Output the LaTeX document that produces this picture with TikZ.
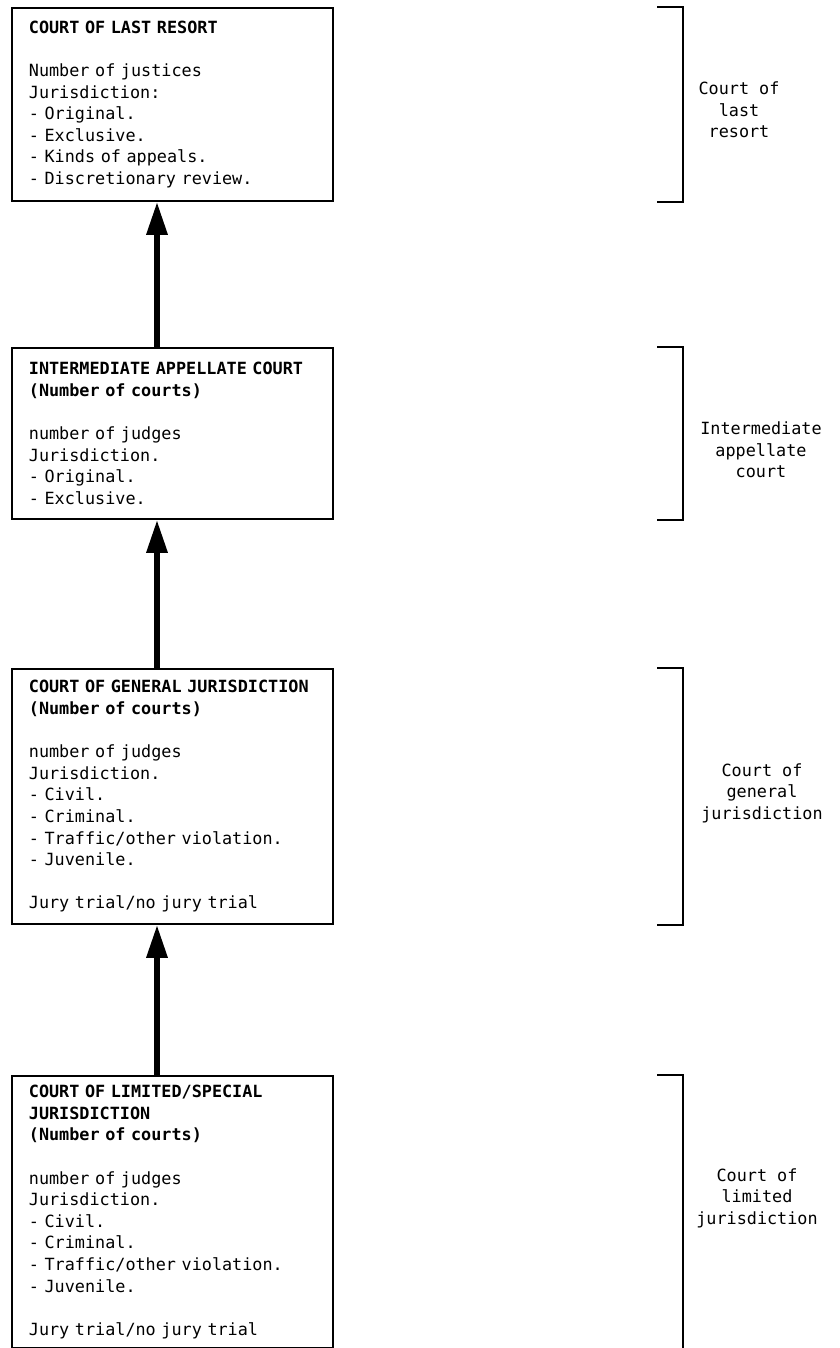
\documentclass[tikz,border=0pt]{standalone}
\usepackage{fontspec}
\setmonofont{DejaVu Sans Mono}
\usetikzlibrary{arrows.meta}
% fixed-pitch text: every space as wide as a character cell
\newcommand{\monotext}{\ttfamily\fontsize{16.8}{21.6}\selectfont
  \spaceskip=10.11pt plus 0pt minus 0pt\relax}
% a title line that must never be broken
\newcommand{\ttl}[1]{\mbox{\textbf{#1}}}
\begin{document}
\begin{tikzpicture}[x=1pt,y=-1pt,
  court/.style={draw, line width=1.8pt, anchor=north west,
    inner xsep=17pt, inner ysep=0pt,
    text width=287pt, align=left, font=\monotext},
  level/.style={align=center, inner sep=0pt, font=\monotext},
  bracket/.style={line width=1.8pt},
  uparrow/.style={line width=6pt,
    -{Triangle[width=20pt,length=33pt]}, shorten >=0pt}
]
\useasboundingbox (0,0) rectangle (839,1348);

% court boxes
\node[court, minimum height=193pt] (last) at (11,7)
  {\ttl{COURT OF LAST RESORT}\\ ~\\
   Number of justices\\ Jurisdiction:\\ - Original.\\ - Exclusive.\\
   - Kinds of appeals.\\ - Discretionary review.};
\node[court, minimum height=171pt] (inter) at (11,347)
  {\ttl{INTERMEDIATE APPELLATE COURT}\\ \ttl{(Number of courts)}\\ ~\\
   number of judges\\ Jurisdiction.\\ - Original.\\ - Exclusive.};
\node[court, minimum height=255pt] (general) at (11,668)
  {\ttl{COURT OF GENERAL JURISDICTION}\\ \ttl{(Number of courts)}\\ ~\\
   number of judges\\ Jurisdiction.\\ - Civil.\\ - Criminal.\\
   - Traffic/other violation.\\ - Juvenile.\\ ~\\ Jury trial/no jury trial};
\node[court, minimum height=272pt] (limited) at (11,1075)
  {\ttl{COURT OF LIMITED/SPECIAL}\\ \ttl{JURISDICTION}\\
   \ttl{(Number of courts)}\\ ~\\
   number of judges\\ Jurisdiction.\\ - Civil.\\ - Criminal.\\
   - Traffic/other violation.\\ - Juvenile.\\ ~\\ Jury trial/no jury trial};

% appeal arrows
\coordinate (ax) at (157,0);
\draw[uparrow] (inter.north -| ax) -- (last.south -| ax);
\draw[uparrow] (general.north -| ax) -- (inter.south -| ax);
\draw[uparrow] (limited.north -| ax) -- (general.south -| ax);

% brackets on the right
\coordinate (bl) at (657,0);
\coordinate (br) at (683,0);
\foreach \b in {last,inter,general,limited}{
  \draw[bracket] (\b.north -| bl) -- (\b.north -| br)
    -- (\b.south -| br) -- (\b.south -| bl);
}

% level labels
\node[level] (lastlab) at (739,110) {Court of\\ last\\ resort};
\node[level] (interlab) at (761,450) {Intermediate\\ appellate\\ court};
\node[level] (genlab) at (762,793) {Court of\\ general\\ jurisdiction};
\node[level] (limlab) at (757,1198) {Court of\\ limited\\ jurisdiction};
\end{tikzpicture}
\end{document}
